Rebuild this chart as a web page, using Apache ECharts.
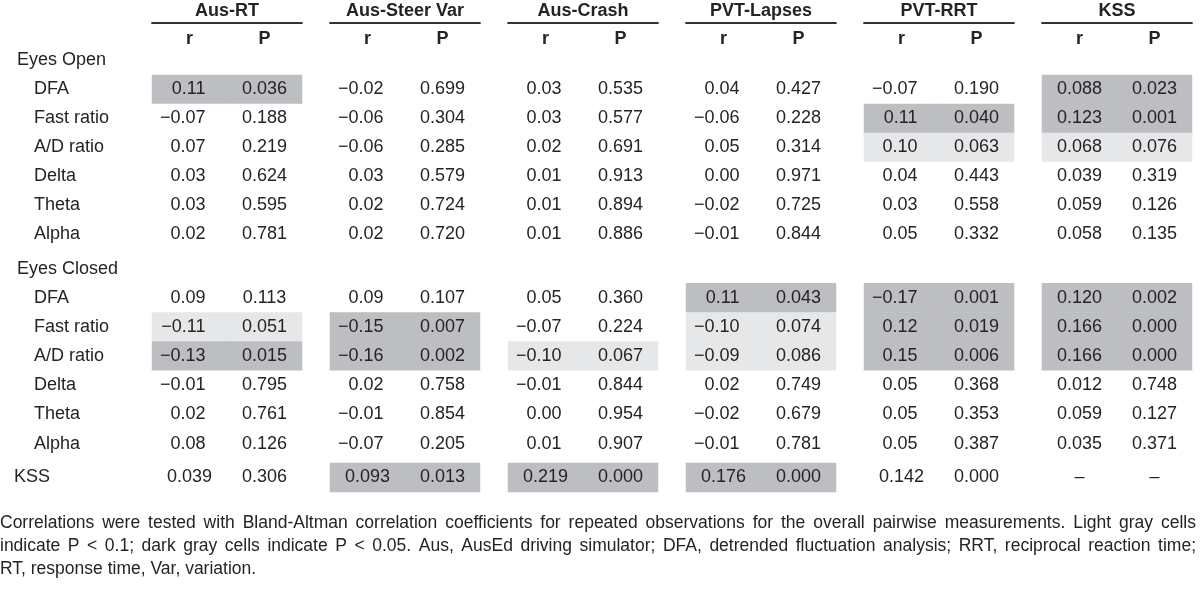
<!DOCTYPE html>
<html>
<head>
<meta charset="utf-8">
<script src="https://cdn.jsdelivr.net/npm/echarts@6/dist/echarts.min.js"></script>
<style>html,body{margin:0;padding:0;background:#fff;}#chart{width:1200px;height:590px;}</style>
</head>
<body>
<div id="chart"></div>
<script>
// ---------- data ----------
const groups = ['Aus-RT', 'Aus-Steer Var', 'Aus-Crash', 'PVT-Lapses', 'PVT-RRT', 'KSS'];
const statLabels = ['r', 'P'];
const openHeader = 'Eyes Open';
const closedHeader = 'Eyes Closed';
const openRows = ['DFA', 'Fast ratio', 'A/D ratio', 'Delta', 'Theta', 'Alpha'];
const closedRows = ['DFA', 'Fast ratio', 'A/D ratio', 'Delta', 'Theta', 'Alpha'];
const kssRows = ['KSS'];

// each row: r, P for each group in order
const openValues = [
  ['0.11', '0.036', '−0.02', '0.699', '0.03', '0.535', '0.04', '0.427', '−0.07', '0.190', '0.088', '0.023'],
  ['−0.07', '0.188', '−0.06', '0.304', '0.03', '0.577', '−0.06', '0.228', '0.11', '0.040', '0.123', '0.001'],
  ['0.07', '0.219', '−0.06', '0.285', '0.02', '0.691', '0.05', '0.314', '0.10', '0.063', '0.068', '0.076'],
  ['0.03', '0.624', '0.03', '0.579', '0.01', '0.913', '0.00', '0.971', '0.04', '0.443', '0.039', '0.319'],
  ['0.03', '0.595', '0.02', '0.724', '0.01', '0.894', '−0.02', '0.725', '0.03', '0.558', '0.059', '0.126'],
  ['0.02', '0.781', '0.02', '0.720', '0.01', '0.886', '−0.01', '0.844', '0.05', '0.332', '0.058', '0.135']
];
const closedValues = [
  ['0.09', '0.113', '0.09', '0.107', '0.05', '0.360', '0.11', '0.043', '−0.17', '0.001', '0.120', '0.002'],
  ['−0.11', '0.051', '−0.15', '0.007', '−0.07', '0.224', '−0.10', '0.074', '0.12', '0.019', '0.166', '0.000'],
  ['−0.13', '0.015', '−0.16', '0.002', '−0.10', '0.067', '−0.09', '0.086', '0.15', '0.006', '0.166', '0.000'],
  ['−0.01', '0.795', '0.02', '0.758', '−0.01', '0.844', '0.02', '0.749', '0.05', '0.368', '0.012', '0.748'],
  ['0.02', '0.761', '−0.01', '0.854', '0.00', '0.954', '−0.02', '0.679', '0.05', '0.353', '0.059', '0.127'],
  ['0.08', '0.126', '−0.07', '0.205', '0.01', '0.907', '−0.01', '0.781', '0.05', '0.387', '0.035', '0.371']
];
const kssValues = [
  ['0.039', '0.306', '0.093', '0.013', '0.219', '0.000', '0.176', '0.000', '0.142', '0.000', '–', '–']
];

// shading per row per group: 0 none, 1 light gray (P < 0.1), 2 dark gray (P < 0.05)
const openShade = [
  [2, 0, 0, 0, 0, 2],
  [0, 0, 0, 0, 2, 2],
  [0, 0, 0, 0, 1, 1],
  [0, 0, 0, 0, 0, 0],
  [0, 0, 0, 0, 0, 0],
  [0, 0, 0, 0, 0, 0]
];
const closedShade = [
  [0, 0, 0, 2, 2, 2],
  [1, 2, 0, 1, 2, 2],
  [2, 2, 1, 1, 2, 2],
  [0, 0, 0, 0, 0, 0],
  [0, 0, 0, 0, 0, 0],
  [0, 0, 0, 0, 0, 0]
];
const kssShade = [
  [0, 2, 2, 2, 0, 0]
];

const captionLines = [
  'Correlations were tested with Bland-Altman correlation coefficients for repeated observations for the overall pairwise measurements. Light gray cells',
  'indicate P < 0.1; dark gray cells indicate P < 0.05. Aus, AusEd driving simulator; DFA, detrended fluctuation analysis; RRT, reciprocal reaction time;',
  'RT, response time, Var, variation.'
];

// ---------- styling / layout ----------
const FONT = "'Liberation Sans', Arial, sans-serif";
const TXT = '#262324';
const FS = 18;
const LIGHT = '#e6e7e8';
const DARK = '#bdbec1';

const blocks = [
  { header: openHeader, rows: [openHeader].concat(openRows), values: [null].concat(openValues), shade: [null].concat(openShade), top: 46, height: 203 },
  { header: closedHeader, rows: [closedHeader].concat(closedRows), values: [null].concat(closedValues), shade: [null].concat(closedShade), top: 254.2, height: 203.9 },
  { header: null, rows: kssRows, values: kssValues, shade: kssShade, top: 463, height: 29 }
];

const grids = [], xAxes = [], yAxes = [], series = [];
blocks.forEach((b, bi) => {
  groups.forEach((g, gi) => {
    const idx = grids.length;
    grids.push({ left: 152 + gi * 178, width: 150, top: b.top, height: b.height });
    const xa = {
      gridIndex: idx, type: 'category', data: statLabels, position: 'top',
      axisTick: { show: false }, splitLine: { show: false }
    };
    if (bi === 0) {
      Object.assign(xa, {
        offset: 23,
        axisLine: { show: true, lineStyle: { color: '#333333', width: 1.8 } },
        axisLabel: { show: true, inside: true, margin: 7, fontFamily: FONT, fontSize: FS, fontWeight: 'bold', color: TXT },
        name: g, nameLocation: 'middle', nameGap: 3,
        nameTextStyle: { fontFamily: FONT, fontSize: FS, fontWeight: 'bold', color: TXT }
      });
    } else {
      Object.assign(xa, { axisLine: { show: false }, axisLabel: { show: false } });
    }
    xAxes.push(xa);
    const ya = {
      gridIndex: idx, type: 'category', data: b.rows, inverse: true,
      axisLine: { show: false }, axisTick: { show: false }, splitLine: { show: false }
    };
    if (gi === 0) {
      ya.axisLabel = {
        show: true, interval: 0, align: 'left', margin: 138,
        fontFamily: FONT, fontSize: FS, color: TXT,
        formatter: (v, i) => {
          if (b.header && i === 0) return '{h|' + v + '}';
          if (!b.header) return '{k|' + v + '}';
          return '{s|' + v + '}';
        },
        rich: {
          h: { fontFamily: FONT, fontSize: FS, color: TXT, padding: [0, 0, 0, 3] },
          s: { fontFamily: FONT, fontSize: FS, color: TXT, padding: [0, 0, 0, 20] },
          k: { fontFamily: FONT, fontSize: FS, color: TXT }
        }
      };
    } else {
      ya.axisLabel = { show: false };
    }
    yAxes.push(ya);

    const data = [];
    b.rows.forEach((rName, ri) => {
      const vals = b.values[ri];
      if (!vals) return;
      const shade = b.shade[ri][gi];
      statLabels.forEach((s, si) => {
        const text = vals[gi * 2 + si];
        const item = { value: [si, ri, shade], text: text };
        if (si === 0 && /^[−-]?\d\.\d\d$/.test(text)) {
          item.label = { align: 'right', offset: [16, 0] };
        }
        data.push(item);
      });
    });
    series.push({
      type: 'heatmap', xAxisIndex: idx, yAxisIndex: idx, data: data, silent: true,
      label: { show: true, fontFamily: FONT, fontSize: FS, color: TXT, formatter: p => p.data.text },
      emphasis: { disabled: true }
    });
  });
});

// justified caption
const CAP_FS = 17.5;
const measureCtx = document.createElement('canvas').getContext('2d');
measureCtx.font = CAP_FS + "px " + FONT;
const capRich = {};
const capText = captionLines.map((line, li) => {
  if (li === captionLines.length - 1) return line;
  const words = line.split(' ');
  const wsum = words.reduce((s, w) => s + measureCtx.measureText(w).width, 0);
  const gap = Math.max(measureCtx.measureText(' ').width * 0.8, (1196 - wsum) / (words.length - 1));
  capRich['g' + li] = { width: gap, fontFamily: FONT, fontSize: CAP_FS, color: TXT };
  return words.join('{g' + li + '| }');
}).join('\n');

const chart = echarts.init(document.getElementById('chart'), null, { renderer: 'canvas' });
chart.setOption({
  backgroundColor: '#ffffff',
  animation: false,
  title: {
    text: capText, left: 0, top: 511.5, padding: 0,
    textStyle: { fontFamily: FONT, fontSize: CAP_FS, fontWeight: 'normal', color: TXT, lineHeight: 23, rich: capRich }
  },
  visualMap: {
    type: 'piecewise', show: false, dimension: 2, seriesIndex: series.map((s, i) => i),
    pieces: [{ value: 0, color: '#ffffff' }, { value: 1, color: LIGHT }, { value: 2, color: DARK }]
  },
  grid: grids, xAxis: xAxes, yAxis: yAxes, series: series
});
</script>
</body>
</html>
